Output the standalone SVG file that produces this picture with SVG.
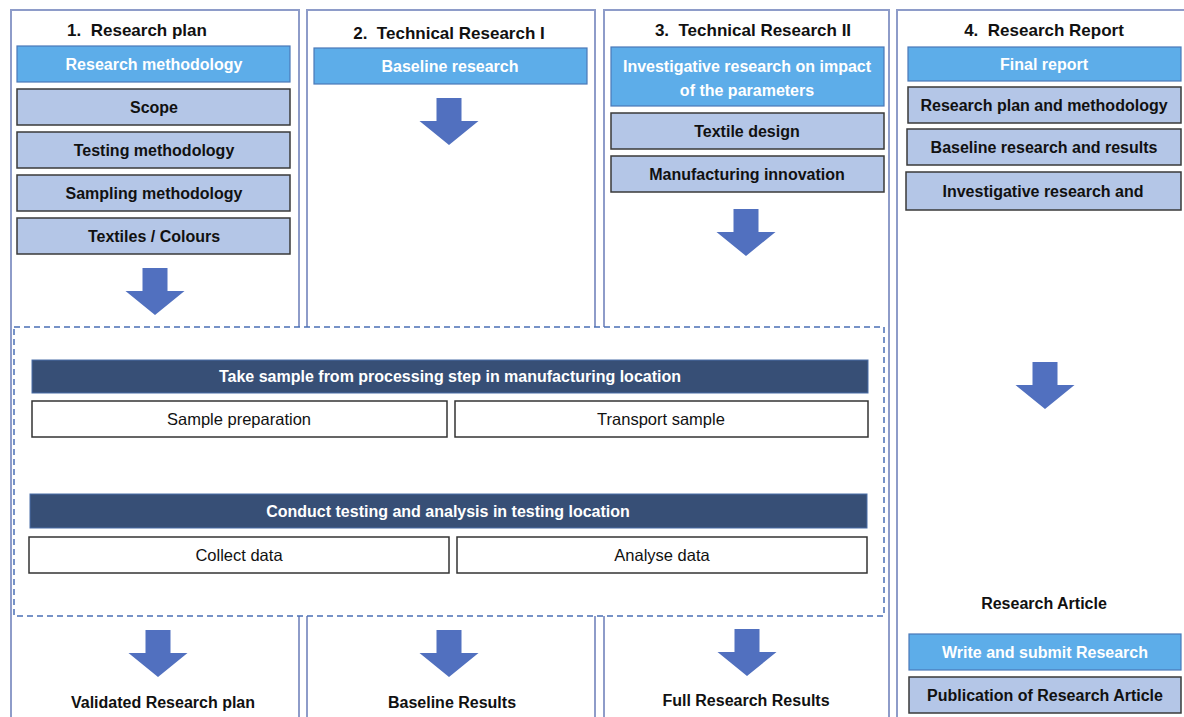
<svg xmlns="http://www.w3.org/2000/svg" width="1184" height="717" viewBox="0 0 1184 717">
<defs>
<style>
.col{fill:#fff;stroke:#8e9cc9;stroke-width:2}
.hdr{font-family:"Liberation Sans",Arial,sans-serif;font-weight:bold;font-size:17px;fill:#111;text-anchor:middle;white-space:pre}
.lbl{font-family:"Liberation Sans",Arial,sans-serif;font-weight:bold;font-size:16px;fill:#111;text-anchor:middle}
.wt{font-family:"Liberation Sans",Arial,sans-serif;font-weight:bold;font-size:16px;fill:#fff;text-anchor:middle}
.rt{font-family:"Liberation Sans",Arial,sans-serif;font-size:16.5px;fill:#111;text-anchor:middle}
.blue{fill:#5dade9;stroke:#4a78b8;stroke-width:1.2}
.grey{fill:#b4c6e7;stroke:#3a3a3a;stroke-width:1.5}
.dark{fill:#374f76;stroke:#4a6ea8;stroke-width:1}
.white{fill:#fff;stroke:#333;stroke-width:1.5}
.arrow{fill:#5170bf}
</style>
<path id="arr" d="M-12.5,0 H12.5 V23 H29.5 L0,47 L-29.5,23 H-12.5 Z"/>
</defs>

<g id="columns">
<rect id="col1" class="col" x="11" y="10" width="288" height="712"/>
<rect id="col2" class="col" x="307" y="10" width="288" height="712"/>
<rect id="col3" class="col" x="604" y="10" width="285" height="712"/>
<rect id="col4" class="col" x="897" y="10" width="292" height="712"/>
</g>

<g id="process">
<rect x="14" y="327" width="870" height="289" fill="#fff" stroke="#4a6fb5" stroke-width="1.5" stroke-dasharray="6,4"/>
<g id="bar1"><rect class="dark" x="32" y="360" width="836" height="33"/><text class="wt" x="450" y="382">Take sample from processing step in manufacturing location</text></g>
<g id="sampleprep"><rect class="white" x="32" y="401" width="415" height="36"/><text class="rt" x="239" y="425">Sample preparation</text></g>
<g id="transport"><rect class="white" x="455" y="401" width="413" height="36"/><text class="rt" x="661" y="425">Transport sample</text></g>
<g id="bar2"><rect class="dark" x="30" y="494" width="837" height="34"/><text class="wt" x="448" y="517">Conduct testing and analysis in testing location</text></g>
<g id="collect"><rect class="white" x="29" y="537" width="420" height="36"/><text class="rt" x="239" y="561">Collect data</text></g>
<g id="analyse"><rect class="white" x="457" y="537" width="410" height="36"/><text class="rt" x="662" y="561">Analyse data</text></g>
</g>

<g id="plan">
<text class="hdr" x="137" y="36" xml:space="preserve">1.  Research plan</text>
<g id="n-rm"><rect class="blue" x="17" y="46" width="273" height="36"/><text class="wt" x="154" y="70">Research methodology</text></g>
<g id="n-scope"><rect class="grey" x="17" y="89" width="273" height="36"/><text class="lbl" x="154" y="113">Scope</text></g>
<g id="n-tm"><rect class="grey" x="17" y="132" width="273" height="36"/><text class="lbl" x="154" y="156">Testing methodology</text></g>
<g id="n-sm"><rect class="grey" x="17" y="175" width="273" height="36"/><text class="lbl" x="154" y="199">Sampling methodology</text></g>
<g id="n-tc"><rect class="grey" x="17" y="218" width="273" height="36"/><text class="lbl" x="154" y="242">Textiles / Colours</text></g>
<text class="lbl" x="163" y="708">Validated Research plan</text>
</g>

<g id="tech1">
<text class="hdr" x="449" y="39" xml:space="preserve">2.  Technical Research I</text>
<g id="n-br"><rect class="blue" x="314" y="48" width="273" height="36"/><text class="wt" x="450" y="72">Baseline research</text></g>
<text class="lbl" x="452" y="708">Baseline Results</text>
</g>

<g id="tech2">
<text class="hdr" x="753" y="36" xml:space="preserve">3.  Technical Research II</text>
<g id="n-ir"><rect class="blue" x="611" y="47" width="273" height="59"/><text class="wt" x="747" y="72">Investigative research on impact</text><text class="wt" x="747" y="96">of the parameters</text></g>
<g id="n-td"><rect class="grey" x="611" y="113" width="273" height="36"/><text class="lbl" x="747" y="137">Textile design</text></g>
<g id="n-mi"><rect class="grey" x="611" y="156" width="273" height="36"/><text class="lbl" x="747" y="180">Manufacturing innovation</text></g>
<text class="lbl" x="746" y="706">Full Research Results</text>
</g>

<g id="report">
<text class="hdr" x="1044" y="36" xml:space="preserve">4.  Research Report</text>
<g id="n-fr"><rect class="blue" x="908" y="47" width="273" height="34"/><text class="wt" x="1044" y="70">Final report</text></g>
<g id="n-rpm"><rect class="grey" x="908" y="87" width="273" height="36"/><text class="lbl" x="1044" y="111">Research plan and methodology</text></g>
<g id="n-brr"><rect class="grey" x="907" y="129" width="274" height="36"/><text class="lbl" x="1044" y="153">Baseline research and results</text></g>
<g id="n-ira"><rect class="grey" x="906" y="172" width="275" height="38"/><text class="lbl" x="1043" y="197">Investigative research and</text></g>
<text class="lbl" x="1044" y="609">Research Article</text>
<g id="n-ws"><rect class="blue" x="909" y="634" width="272" height="36"/><text class="wt" x="1045" y="658">Write and submit Research</text></g>
<g id="n-pub"><rect class="grey" x="909" y="677" width="272" height="36"/><text class="lbl" x="1045" y="701">Publication of Research Article</text></g>
</g>

<g id="connectors">
<use href="#arr" class="arrow" transform="translate(155,268)"/>
<use href="#arr" class="arrow" transform="translate(449,98)"/>
<use href="#arr" class="arrow" transform="translate(746,209)"/>
<use href="#arr" class="arrow" transform="translate(1045,362)"/>
<use href="#arr" class="arrow" transform="translate(158,630)"/>
<use href="#arr" class="arrow" transform="translate(449,630)"/>
<use href="#arr" class="arrow" transform="translate(747,629)"/>
</g>
</svg>
